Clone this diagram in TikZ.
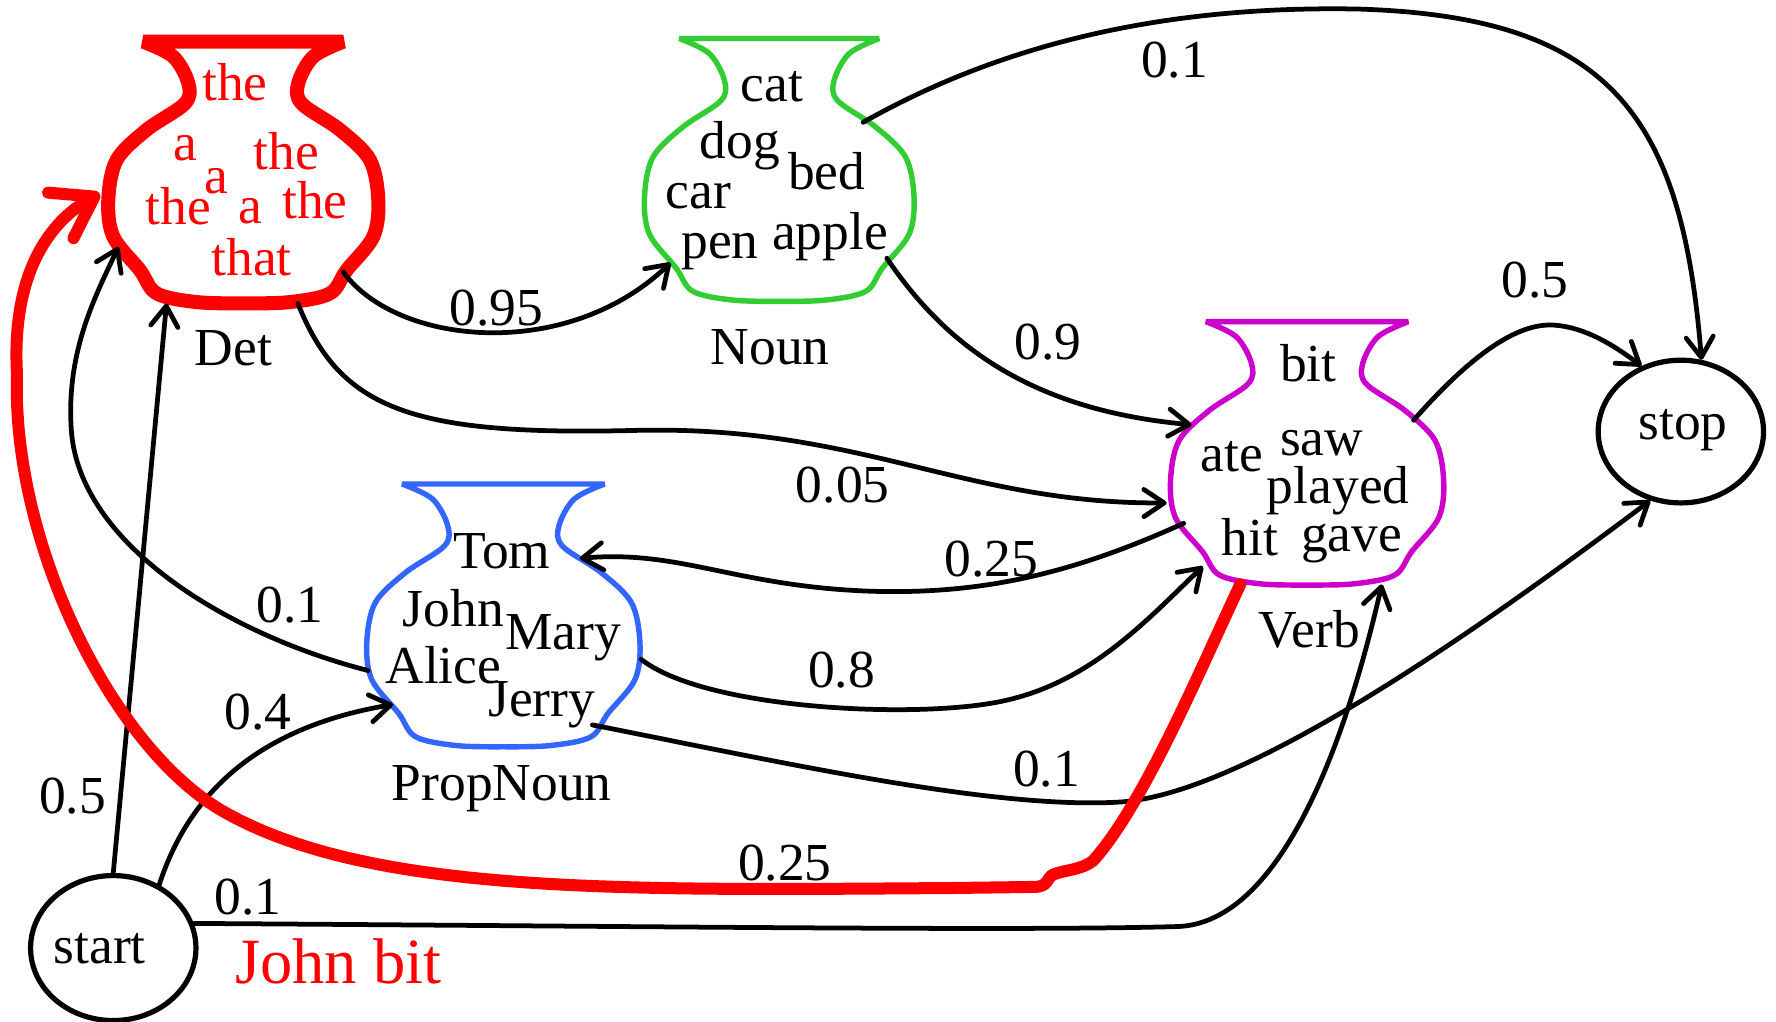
\documentclass[tikz,border=0pt]{standalone}
\usepackage{fontspec}
\setmainfont{Liberation Serif}
\usetikzlibrary{arrows.meta,shapes.geometric}
\definecolor{detred}{RGB}{255,0,0}
\definecolor{noungreen}{RGB}{50,205,50}
\definecolor{verbpurple}{RGB}{204,0,204}
\definecolor{propblue}{RGB}{51,102,255}
\tikzset{
  vase/.pic={
    \path[pic actions] plot[smooth, tension=0.55] coordinates {
      (0.741,0) (0.519,0.057) (0.407,0.159) (0.432,0.236) (0.716,0.337)
      (0.938,0.452) (1.0,0.605) (0.963,0.745) (0.766,0.873) (0.642,0.962)
      (0.35,0.995) (0,1.0) (-0.35,0.995) (-0.642,0.962) (-0.766,0.873)
      (-0.963,0.745) (-1.0,0.605) (-0.938,0.452) (-0.716,0.337)
      (-0.432,0.236) (-0.407,0.159) (-0.519,0.057) (-0.741,0)} -- cycle;
  },
  vaseline/.style={line join=bevel},
  word/.style={font=\fontsize{23.6}{24}\selectfont, anchor=base, inner sep=0pt},
  redword/.style={word, text=detred},
  wt/.style={font=\fontsize{23.6}{24}\selectfont, inner sep=0pt},
  johnbit/.style={font=\fontsize{28.5}{29}\selectfont, anchor=base, inner sep=0pt, text=detred},
  stateellipse/.style={draw, ellipse, line width=2.3pt, inner sep=0pt},
  conn/.style={line width=2.1pt, line cap=round, -{Straight Barb[length=9pt,width=12pt,round]}},
  redconn/.style={draw=detred, line width=5.3pt, line cap=round, line join=round,
    -{Straight Barb[length=17pt,width=23pt,round]}},
}
\begin{document}
\begin{tikzpicture}[x=0.5pt,y=-0.5pt]
\useasboundingbox (0,0) rectangle (1568,902);

% vases
\pic[draw=detred, vaseline, line width=6.2pt, xscale=119.2, yscale=231] (detvase) at (214.8,36.8) {vase};
\pic[draw=noungreen, vaseline, line width=2.4pt, xscale=119, yscale=232] (nounvase) at (688,34) {vase};
\pic[draw=verbpurple, vaseline, line width=2.4pt, xscale=120.6, yscale=232.5] (verbvase) at (1154,284) {vase};
\pic[draw=propblue, vaseline, line width=2.4pt, xscale=120.6, yscale=232] (propvase) at (444.4,427.3) {vase};

% Det words
\node[redword] (d1) at (207.5,88.3) {the};
\node[redword] (d2) at (163.3,141.3) {a};
\node[redword] (d3) at (253,149.5) {the};
\node[redword] (d4) at (191.3,170.7) {a};
\node[redword] (d5) at (157.4,198.6) {the};
\node[redword] (d6) at (220.7,197.2) {a};
\node[redword] (d7) at (278,192.7) {the};
\node[redword] (d8) at (222.2,242.8) {that};
% Noun words
\node[word] (n1) at (681.3,89.8) {cat};
\node[word] (n2) at (653.3,139.8) {dog};
\node[word] (n3) at (729.8,167.7) {bed};
\node[word] (n4) at (616.5,183.9) {car};
\node[word] (n5) at (635.6,228) {pen};
\node[word] (n6) at (732.8,220.7) {apple};
% Verb words
\node[word] (v1) at (1155,337) {bit};
\node[word] (v2) at (1166.8,401.7) {saw};
\node[word] (v3) at (1087.4,416.4) {ate};
\node[word] (v4) at (1181.5,444.3) {played};
\node[word] (v5) at (1103.6,490) {hit};
\node[word] (v6) at (1193.3,487) {gave};
% PropNoun words
\node[word] (p1) at (442.9,501.7) {Tom};
\node[word] (p2) at (400.2,553.3) {John};
\node[word] (p3) at (497.3,573.8) {Mary};
\node[word] (p4) at (391.4,603.3) {Alice};
\node[word] (p5) at (478.2,632.7) {Jerry};

% labels
\node[word] (detlbl) at (206,323) {Det};
\node[word] (nounlbl) at (680,322) {Noun};
\node[word] (verblbl) at (1156,572) {Verb};
\node[word] (proplbl) at (443,707) {PropNoun};

% start / stop
\node[stateellipse, minimum width=73pt, minimum height=64pt] (start) at (100,837) {};
\node[word] (starttxt) at (88,850.5) {start};
\node[stateellipse, minimum width=73pt, minimum height=63pt] (stop) at (1484,381) {};
\node[word] (stoptxt) at (1486,388.4) {stop};
\node[johnbit] (jb) at (298.7,868.1) {John bit};

% anchor points on vases
\coordinate (det-r) at (303,240);
\coordinate (det-b) at (263,268);
\coordinate (det-l) at (104.5,218);
\coordinate (det-bl) at (147,268);
\coordinate (det-red) at (88,171);
\coordinate (noun-bl) at (592,232);
\coordinate (noun-br) at (783,228);
\coordinate (noun-rs) at (762,108);
\coordinate (verb-ls) at (1052,375);
\coordinate (verb-l) at (1030,444);
\coordinate (verb-ll) at (1045,462);
\coordinate (verb-bl) at (1062,500);
\coordinate (verb-b) at (1095,516);
\coordinate (verb-br) at (1220,516);
\coordinate (verb-rs) at (1248,371);
\coordinate (prop-rn) at (512,493);
\coordinate (prop-r) at (566,582);
\coordinate (prop-br) at (523,640);
\coordinate (prop-l) at (325,592);
\coordinate (prop-bl) at (347,622);

% connectors
\draw[conn] (det-r) .. controls (350,305) and (500,320) .. (noun-bl);
\draw[conn] (det-b) .. controls (300,360) and (360,385) .. (560,380) .. controls (760,375) and (850,445) .. (verb-l);
\draw[conn] (noun-br) .. controls (835,305) and (910,362) .. (verb-ls);
\draw[conn] (noun-rs) .. controls (900,30) and (1050,5) .. (1200,8) .. controls (1420,15) and (1485,100) .. (stop.74);
\draw[conn] (verb-rs) .. controls (1300,312) and (1340,285) .. (1372,287) .. controls (1400,289) and (1425,305) .. (stop.121);
\draw[conn] (verb-ll) .. controls (950,505) and (870,525) .. (770,522) .. controls (650,518) and (600,485) .. (prop-rn);
\draw[conn] (prop-r) .. controls (620,625) and (800,635) .. (880,620) .. controls (960,605) and (1010,550) .. (verb-bl);
\draw[conn] (prop-br) .. controls (700,675) and (880,715) .. (990,708) .. controls (1100,700) and (1300,560) .. (stop.246);
\draw[conn] (prop-l) .. controls (200,560) and (70,480) .. (63,380) .. controls (58,310) and (85,260) .. (det-l);
\draw[conn] (start.north) -- (det-bl);
\draw[conn] (start.54) .. controls (170,690) and (240,640) .. (prop-bl);
\draw[conn] (start.17) .. controls (600,818) and (900,822) .. (1040,818) .. controls (1120,815) and (1180,690) .. (verb-br);
\draw[redconn] (verb-b) .. controls (1060,590) and (1010,710) .. (965,760)
  .. controls (955,768) and (940,768) .. (930,772)
  .. controls (924,775) and (926,782) .. (915,783) -- (840,784)
  .. controls (550,786) and (330,790) .. (200,718)
  .. controls (100,663) and (10,480) .. (15,330)
  .. controls (10,240) and (45,195) .. (det-red);

% weights
\node[wt] (w1) at (1037,53) {0.1};
\node[wt] (w2) at (438,272) {0.95};
\node[wt] (w3) at (925,302) {0.9};
\node[wt] (w4) at (1355,247) {0.5};
\node[wt] (w5) at (744,428) {0.05};
\node[wt] (w6) at (875,494) {0.25};
\node[wt] (w7) at (256,534) {0.1};
\node[wt] (w8) at (743,592) {0.8};
\node[wt] (w9) at (228,629) {0.4};
\node[wt] (w10) at (64,703) {0.5};
\node[wt] (w11) at (924,679) {0.1};
\node[wt] (w12) at (693,762) {0.25};
\node[wt] (w13) at (219,792) {0.1};
\end{tikzpicture}
\end{document}
